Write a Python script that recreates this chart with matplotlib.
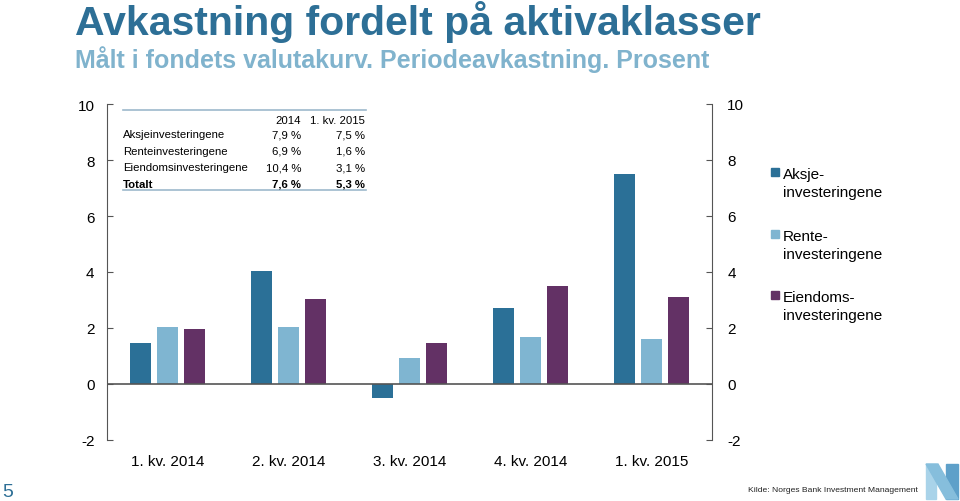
import matplotlib
matplotlib.use("Agg")
import matplotlib.pyplot as plt
from matplotlib.patches import Polygon, Rectangle
import numpy as np

plt.rcParams['font.family'] = ['Liberation Sans', 'DejaVu Sans']

categories = ["1. kv. 2014", "2. kv. 2014", "3. kv. 2014", "4. kv. 2014", "1. kv. 2015"]
series_names = ["Aksje-\ninvesteringene", "Rente-\ninvesteringene", "Eiendoms-\ninvesteringene"]
aksje = [1.45, 4.02, -0.49, 2.72, 7.51]
rente = [2.03, 2.02, 0.93, 1.67, 1.61]
eiendom = [1.98, 3.02, 1.47, 3.51, 3.12]
colors = ["#2B7097", "#7FB5D1", "#633165"]

table_header = ["", "2014", "1. kv. 2015"]
table_rows = [
    ["Aksjeinvesteringene", "7,9 %", "7,5 %"],
    ["Renteinvesteringene", "6,9 %", "1,6 %"],
    ["Eiendomsinvesteringene", "10,4 %", "3,1 %"],
    ["Totalt", "7,6 %", "5,3 %"],
]
yticks = [-2, 0, 2, 4, 6, 8, 10]

W, H = 960, 502
def fy(py):
    return 1 - py / H
def fx(px):
    return px / W

fig = plt.figure(figsize=(W / 100, H / 100), dpi=100)
ax = fig.add_axes([107 / W, (H - 441) / H, (712 - 107) / W, (441 - 105) / H])

x = np.arange(len(categories))
width = 0.174
offs = 0.223
for i, (vals, c) in enumerate(zip([aksje, rente, eiendom], colors)):
    ax.bar(x + (i - 1) * offs, vals, width, color=c, label=series_names[i], zorder=2)

ax.set_xlim(-0.5, len(categories) - 0.5)
ax.set_ylim(-2, 10)
ax.axhline(0, color="#555555", lw=1.2, zorder=3)

for s in ["top", "bottom", "right"]:
    ax.spines[s].set_visible(False)
ax.spines["left"].set_color("#555555")

ax.set_yticks(yticks)
ax.set_yticklabels([str(v) for v in yticks])
ax.tick_params(axis="y", direction="in", length=4, color="#555555", labelsize=11, pad=9)
ax.set_xticks(x)
ax.set_xticklabels(categories)
ax.tick_params(axis="x", length=0, labelsize=11, pad=10)

ax2 = ax.twinx()
ax2.set_ylim(-2, 10)
ax2.set_yticks(yticks)
ax2.set_yticklabels([str(v) for v in yticks])
for s in ["top", "bottom", "left"]:
    ax2.spines[s].set_visible(False)
ax2.spines["right"].set_color("#555555")
ax2.tick_params(axis="y", direction="in", length=4, color="#555555", labelsize=11, pad=11)

# legend (manual)
leg_y = [173, 235, 296]
for name, c, yy in zip(series_names, colors, leg_y):
    fig.add_artist(Rectangle((fx(771), fy(yy + 4)), 8 / W, 8 / H, transform=fig.transFigure,
                             color=c))
    lines = name.split("\n")
    fig.text(fx(783), fy(yy + 6), lines[0], ha="left", va="baseline", fontsize=11)
    fig.text(fx(783), fy(yy + 24), lines[1], ha="left", va="baseline", fontsize=11)

# inset table
tx0, tx1 = 123, 366
fig.add_artist(plt.Line2D([fx(tx0), fx(tx1)], [fy(111), fy(111)], color="#9DB9CC", lw=1.2))
fig.add_artist(plt.Line2D([fx(tx0), fx(tx1)], [fy(191), fy(191)], color="#9DB9CC", lw=1.2))
tfs = 8.2
c1, c2 = 301, 365
fig.text(fx(c1), fy(120.5), table_header[1], ha="right", va="center", fontsize=tfs)
fig.text(fx(c2), fy(120.5), table_header[2], ha="right", va="center", fontsize=tfs)
row_y = [135.5, 152, 168.5, 184.5]
for r, yy in zip(table_rows, row_y):
    fw = "bold" if r[0] == "Totalt" else "normal"
    fig.text(fx(123), fy(yy), r[0], ha="left", va="center", fontsize=tfs, fontweight=fw)
    fig.text(fx(c1), fy(yy), r[1], ha="right", va="center", fontsize=tfs, fontweight=fw)
    fig.text(fx(c2), fy(yy), r[2], ha="right", va="center", fontsize=tfs, fontweight=fw)

# titles
fig.text(fx(75), fy(35), "Avkastning fordelt på aktivaklasser", ha="left", va="baseline",
         fontsize=29.5, fontweight="bold", color="#2D6F96")
fig.text(fx(75), fy(68), "Målt i fondets valutakurv. Periodeavkastning. Prosent", ha="left",
         va="baseline", fontsize=18, fontweight="bold", color="#80B3CD")

# footer
fig.text(fx(2), fy(497), "5", ha="left", va="baseline", fontsize=14, color="#2D6F96")
fig.text(fx(918), fy(492), "Kilde: Norges Bank Investment Management", ha="right",
         va="baseline", fontsize=6.1, color="#222222")

# logo (simple N shape)
logo_left = Polygon([(fx(926), fy(500)), (fx(926), fy(465)), (fx(936), fy(465)), (fx(936), fy(500))],
                    closed=True, transform=fig.transFigure, color="#A9D3E9")
logo_diag = Polygon([(fx(926), fy(465)), (fx(938), fy(465)), (fx(958), fy(500)), (fx(946), fy(500))],
                    closed=True, transform=fig.transFigure, color="#86BEDC")
logo_right = Polygon([(fx(946), fy(465)), (fx(958), fy(465)), (fx(958), fy(500)), (fx(946), fy(500))],
                     closed=True, transform=fig.transFigure, color="#5EA0C9")
for p in (logo_left, logo_right, logo_diag):
    fig.add_artist(p)

fig.savefig("out.png", dpi=100)
